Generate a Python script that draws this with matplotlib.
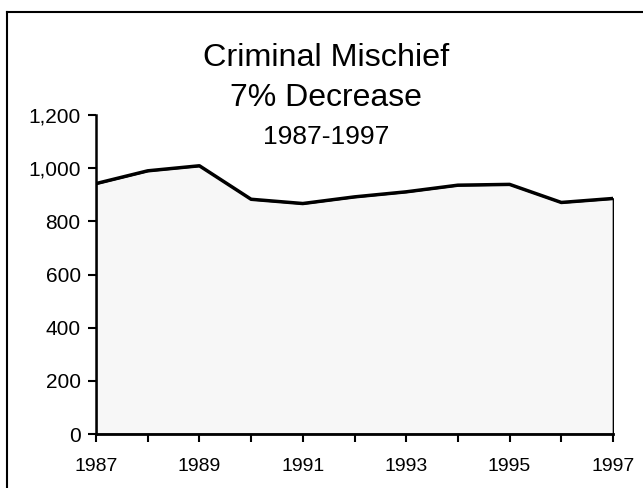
import matplotlib
matplotlib.use("Agg")
import matplotlib.pyplot as plt
from matplotlib.lines import Line2D
from matplotlib.ticker import FuncFormatter, MultipleLocator

plt.rcParams['font.family'] = ['Liberation Sans', 'DejaVu Sans']

years = [1987, 1988, 1989, 1990, 1991, 1992, 1993, 1994, 1995, 1996, 1997]
values = [942, 990, 1009, 883, 867, 892, 911, 936, 939, 871, 886]
xtick_labels = [1987, 1989, 1991, 1993, 1995, 1997]
yticks = [0, 200, 400, 600, 800, 1000, 1200]
title_lines = ["Criminal Mischief", "7% Decrease", "1987-1997"]

fig = plt.figure(figsize=(6.43, 4.88), dpi=100)
fig.patch.set_facecolor('white')
ax = fig.add_axes([96/643, 1-434/488, (613-96)/643, (434-115)/488])

ax.fill_between(years, values, 0, facecolor='#f7f7f7', edgecolor='black', linewidth=1.2, zorder=2)
ax.plot(years, values, color='black', linewidth=2.5, solid_joinstyle='round', zorder=3)

ax.set_xlim(years[0], years[-1])
ax.set_ylim(0, 1200)
ax.set_xticks(xtick_labels)
ax.set_xticklabels([str(y) for y in xtick_labels])
ax.xaxis.set_minor_locator(MultipleLocator(1))
ax.set_yticks(yticks)
ax.yaxis.set_major_formatter(FuncFormatter(lambda v, p: f"{int(v):,}"))

for s in ['top', 'right']:
    ax.spines[s].set_visible(False)
ax.spines['left'].set_linewidth(1.8)
ax.spines['bottom'].set_linewidth(2.0)
ax.tick_params(axis='y', direction='out', length=6, width=1.5, labelsize=15, pad=5)
ax.tick_params(axis='x', which='both', direction='out', length=5.5, width=1.5, labelsize=14, pad=12)
ax.tick_params(axis='x', which='minor', labelbottom=False)
ax.set_facecolor('white')

cx = 326/643
fig.text(cx, 1-57.5/488, title_lines[0], ha='center', va='center', fontsize=23.3)
fig.text(cx, 1-98/488, title_lines[1], ha='center', va='center', fontsize=23)
fig.text(cx, 1-136.5/488, title_lines[2], ha='center', va='center', fontsize=19)

# outer frame (top and left edges visible)
fig.add_artist(Line2D([7/643, 1.0], [1-12/488, 1-12/488], transform=fig.transFigure, color='black', linewidth=1.5))
fig.add_artist(Line2D([7/643, 7/643], [1-12/488, 0.0], transform=fig.transFigure, color='black', linewidth=1.5))

fig.savefig('out.png', dpi=100)
